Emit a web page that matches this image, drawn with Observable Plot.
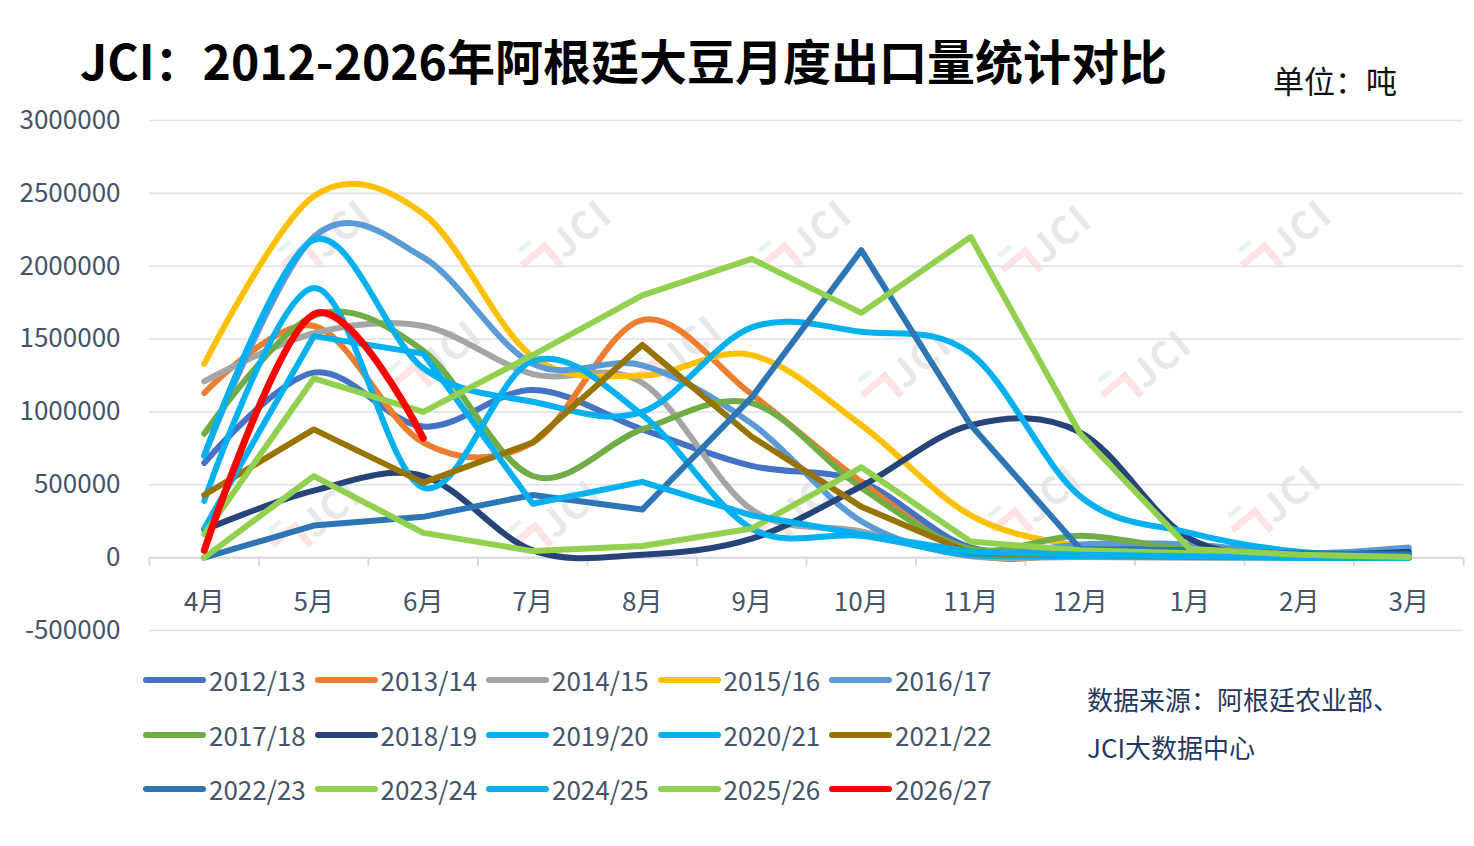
<!DOCTYPE html>
<html>
<head>
<meta charset="utf-8">
<script src="https://cdn.jsdelivr.net/npm/d3@7"></script>
<script src="https://cdn.jsdelivr.net/npm/@observablehq/plot@0.6"></script>
<style>
  html, body { margin: 0; padding: 0; background: #fff; }
  #wrap { position: relative; width: 1474px; height: 846px; overflow: hidden; background: #fff;
          font-family: "Noto Sans CJK SC", "Noto Sans", sans-serif; }
  #chart { position: absolute; left: 0; top: 0; z-index: 2; }
  #wm { position: absolute; left: 0; top: 0; width: 1474px; height: 846px; z-index: 1; }
  .wmk { position: absolute; width: 120px; height: 50px; transform: rotate(-40deg); }
  .wmk .jci { position: absolute; left: 40px; top: 0; font: 700 38px "Noto Sans CJK SC", sans-serif; color: #e8e8e8; letter-spacing: 2px; line-height: 50px; }
  .wmk .chev { position: absolute; left: 4px; top: 14px; width: 26px; height: 22px; border-top: 7px solid #fde3e3; border-right: 7px solid #fde3e3; }
  .wmk .dash { position: absolute; left: 10px; top: 2px; width: 16px; height: 5px; background: #e5f4ec; }
  .txt { position: absolute; white-space: nowrap; line-height: 1; }
  .leg { position: absolute; height: 30px; }
  .leg .sw { position: absolute; left: 0; top: 12px; width: 63px; height: 6px; border-radius: 3px; }
  .leg .lb { position: absolute; left: 66px; top: 0; font-size: 26px; line-height: 30px; color: #44546A; white-space: nowrap; }
</style>
</head>
<body>
<div id="wrap">
  <div id="wm"></div>
  <div id="chart"></div>
  <div class="txt" id="title" style="left:80px;top:35px;font-size:48px;font-weight:700;color:#000;">JCI：2012-2026年阿根廷大豆月度出口量统计对比</div>
  <div class="txt" id="unit" style="left:1273px;top:64px;font-size:31px;color:#111;">单位：吨</div>
  <div class="txt" style="left:1087px;top:686px;font-size:26px;color:#1F3864;">数据来源：阿根廷农业部、</div>
  <div class="txt" style="left:1087px;top:734px;font-size:26px;color:#1F3864;">JCI大数据中心</div>
  <div id="legend"></div>
</div>
<script>
// ---- categories / ticks ----
const months = ["4月","5月","6月","7月","8月","9月","10月","11月","12月","1月","2月","3月"];
const yTicks = [-500000, 0, 500000, 1000000, 1500000, 2000000, 2500000, 3000000];
const seasons = ["2012/13","2013/14","2014/15","2015/16","2016/17","2017/18","2018/19","2019/20","2020/21","2021/22","2022/23","2023/24","2024/25","2025/26","2026/27"];
const colors  = ["#4472C4","#ED7D31","#A5A5A5","#FFC000","#5B9BD5","#70AD47","#264478","#00B0F0","#00B0F0","#997300","#2E75B6","#92D050","#00B0F0","#92D050","#FF0000"];
const straightSeasons = ["2021/22","2022/23","2023/24","2024/25","2025/26"];

// ---- series values (tonnes, 4月..3月) ----
const s2012 = [650000, 1270000, 900000, 1150000, 880000, 630000, 520000, 70000, 80000, 80000, 20000, 30000];
const s2013 = [1130000, 1590000, 790000, 790000, 1630000, 1120000, 520000, 30000, 20000, 10000, 5000, 0];
const s2014 = [1210000, 1540000, 1590000, 1260000, 1200000, 330000, 180000, 10000, 5000, 0, 0, 0];
const s2015 = [1330000, 2480000, 2360000, 1380000, 1250000, 1390000, 910000, 290000, 80000, 40000, 20000, 10000];
const s2016 = [700000, 2200000, 2060000, 1330000, 1320000, 920000, 250000, 15000, 90000, 90000, 30000, 70000];
const s2017 = [850000, 1660000, 1420000, 560000, 880000, 1060000, 480000, 60000, 150000, 50000, 10000, 0];
const s2018 = [190000, 460000, 560000, 50000, 20000, 130000, 490000, 910000, 860000, 130000, 30000, 40000];
const s2019 = [700000, 2180000, 1300000, 1070000, 1000000, 1580000, 1550000, 1400000, 420000, 170000, 40000, 20000];
const s2020 = [390000, 1850000, 480000, 1350000, 980000, 200000, 150000, 20000, 10000, 5000, 0, 0];
const s2021 = [430000, 880000, 515000, 790000, 1460000, 830000, 350000, 30000, 20000, 10000, 5000, 0];
const s2022 = [0, 220000, 280000, 430000, 330000, 1100000, 2110000, 910000, 60000, 50000, 30000, 20000];
const s2023 = [0, 560000, 170000, 45000, 80000, 200000, 620000, 110000, 50000, 30000, 10000, 0];
const s2024 = [200000, 1520000, 1400000, 370000, 520000, 290000, 160000, 40000, 20000, 10000, 0, 0];
const s2025 = [160000, 1230000, 1000000, 1390000, 1800000, 2050000, 1680000, 2200000, 850000, 60000, 20000, 5000];
const s2026 = [50000, 1670000, 820000];

const seriesValues = [s2012, s2013, s2014, s2015, s2016, s2017, s2018, s2019, s2020, s2021, s2022, s2023, s2024, s2025, s2026];

const data = seasons.flatMap((s, k) => seriesValues[k].map((v, i) => ({season: s, i, v})));
const boundaries = d3.range(months.length + 1).map(j => j - 0.5);

const lineMarks = seasons.map((s, k) => Plot.line(data.filter(d => d.season === s), {
  x: "i", y: "v",
  stroke: colors[k],
  strokeWidth: s === "2026/27" ? 7 : 6,
  curve: straightSeasons.includes(s) ? "linear" : "cardinal",
  strokeLinecap: "round", strokeLinejoin: "round"
}));

const chart = Plot.plot({
  width: 1474, height: 846,
  marginTop: 120, marginBottom: 216, marginLeft: 149, marginRight: 11,
  style: {background: "transparent", fontFamily: "'Noto Sans CJK SC', sans-serif", color: "#44546A"},
  x: {type: "linear", domain: [-0.5, months.length - 0.5], axis: null},
  y: {domain: [-500000, 3000000], axis: null},
  marks: [
    Plot.gridY(yTicks, {stroke: "#DDE1E8", strokeOpacity: 1, strokeWidth: 1.6}),
    Plot.ruleY([0], {stroke: "#D6DBE3", strokeWidth: 2}),
    Plot.ruleX(boundaries, {x: d => d, y1: 0, y2: -60000, stroke: "#D6DBE3", strokeWidth: 2}),
    Plot.text(months, {x: (d, i) => i, y: -310000, text: d => d, fontSize: 26, fill: "#44546A"}),
    Plot.axisY(yTicks, {tickSize: 0, tickPadding: 29, fontSize: 26, tickFormat: d => String(d), fill: "#44546A", label: null}),
    ...lineMarks
  ]
});
document.getElementById("chart").appendChild(chart);

// legend
const legend = document.getElementById("legend");
seasons.forEach((s, k) => {
  const col = k % 5, row = Math.floor(k / 5);
  const el = document.createElement("div");
  el.className = "leg";
  el.style.left = (143 + col * 171.5) + "px";
  el.style.top = (665 + row * 54.5) + "px";
  el.innerHTML = `<div class="sw" style="background:${colors[k]}"></div><div class="lb">${s}</div>`;
  legend.appendChild(el);
});

// watermarks
const wmPos = [[330,235],[570,235],[810,235],[1050,240],[1290,235],[440,355],[680,350],[910,365],[1150,365],[320,515],[560,515],[800,505],[1040,500],[1280,500]];
const wm = document.getElementById("wm");
wmPos.forEach(([cx, cy]) => {
  const el = document.createElement("div");
  el.className = "wmk";
  el.style.left = (cx - 60) + "px";
  el.style.top = (cy - 25) + "px";
  el.innerHTML = `<div class="dash"></div><div class="chev"></div><div class="jci">JCI</div>`;
  wm.appendChild(el);
});
</script>
</body>
</html>
